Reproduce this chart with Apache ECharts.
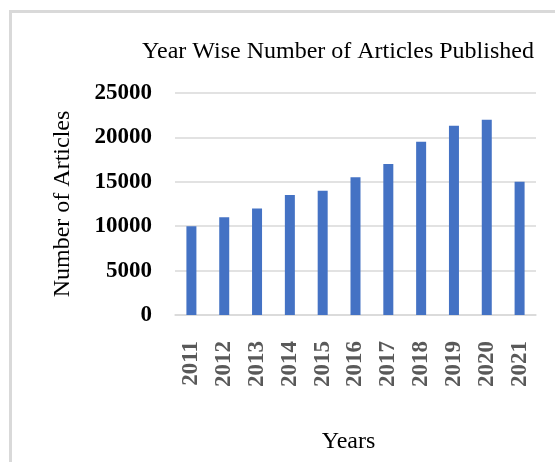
<!DOCTYPE html>
<html lang="en">
<head>
    <meta charset="UTF-8">
    <title>Year Wise Number of Articles Published</title>
    <style>
        html, body {
            margin: 0;
            padding: 0;
            background: #ffffff;
        }

        #chart {
            width: 555px;
            height: 462px;
        }
    </style>
    <script src="https://cdn.jsdelivr.net/npm/echarts@6/dist/echarts.min.js"></script>
</head>
<body>
    <div id="chart"></div>
    <script>
        // data
        const years = ['2011', '2012', '2013', '2014', '2015', '2016', '2017', '2018', '2019', '2020', '2021'];
        const articles = [10000, 11000, 12000, 13500, 14000, 15500, 17000, 19500, 21300, 22000, 15000];

        const serif = '"Liberation Serif", "Times New Roman", serif';

        const chart = echarts.init(document.getElementById('chart'));
        chart.setOption({
            animation: false,
            textStyle: { fontFamily: serif },
            title: {
                text: 'Year Wise Number of Articles Published',
                left: 333,
                top: 35,
                textAlign: 'center',
                textStyle: {
                    fontFamily: serif,
                    fontSize: 24,
                    fontWeight: 'normal',
                    color: '#000000'
                }
            },
            // light frame round the chart (left and top edges only show)
            graphic: [{
                type: 'rect',
                shape: { x: 10.5, y: 11.5, width: 600, height: 500 },
                style: { fill: 'none', stroke: '#d9d9d9', lineWidth: 3 },
                silent: true
            }],
            grid: {
                left: 175,
                right: 19,
                top: 93,
                bottom: 147
            },
            xAxis: {
                type: 'category',
                data: years,
                name: 'Years',
                nameLocation: 'middle',
                nameGap: 115,
                nameTextStyle: {
                    fontFamily: serif,
                    fontSize: 24,
                    color: '#000000',
                    padding: [0, 14, 0, 0]
                },
                axisLine: { lineStyle: { color: '#d9d9d9', width: 1.5 } },
                axisTick: { show: false },
                axisLabel: {
                    rotate: 90,
                    margin: 26,
                    fontFamily: serif,
                    fontSize: 23,
                    fontWeight: 'bold',
                    color: '#595959'
                }
            },
            yAxis: {
                type: 'value',
                min: 0,
                max: 25000,
                interval: 5000,
                name: 'Number of Articles',
                nameLocation: 'middle',
                nameGap: 100,
                nameRotate: 90,
                nameTextStyle: {
                    fontFamily: serif,
                    fontSize: 24,
                    color: '#000000'
                },
                axisLine: { show: false },
                axisTick: { show: false },
                axisLabel: {
                    margin: 23,
                    fontFamily: serif,
                    fontSize: 23,
                    fontWeight: 'bold',
                    color: '#000000',
                    formatter: function (v) { return String(v); }
                },
                splitLine: { lineStyle: { color: '#d9d9d9', width: 1.5 } }
            },
            series: [{
                type: 'bar',
                data: articles,
                barWidth: 10,
                itemStyle: { color: '#4472c4' }
            }]
        });
    </script>
</body>
</html>
